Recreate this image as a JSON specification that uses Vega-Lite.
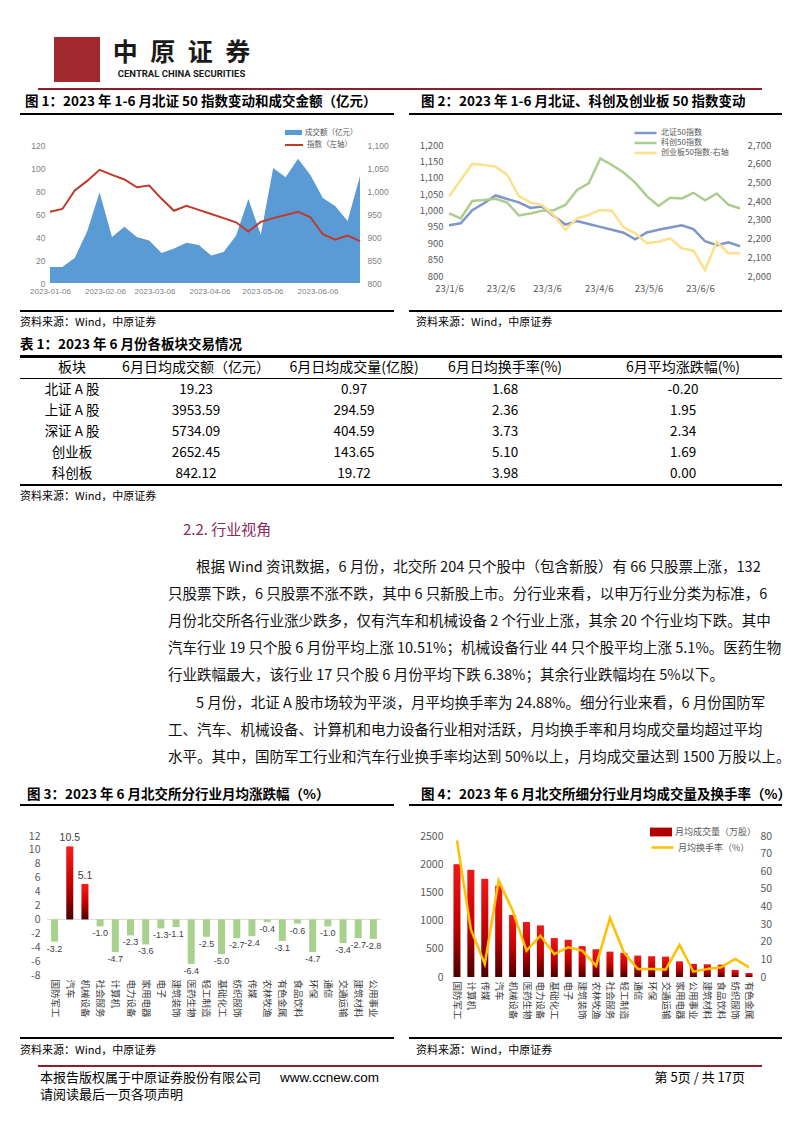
{
"$schema": "https://vega.github.io/schema/vega-lite/v6.json",
"background": "white",
"padding": 0,
"spacing": 0,
"bounds": "full",
"resolve": {"scale": {"fill": "independent", "stroke": "independent"}, "legend": {"fill": "independent", "stroke": "independent"}},
"config": {
  "font": "Noto Sans CJK SC",
  "view": {"stroke": null},
  "concat": {"spacing": 0},
  "axis": {"domain": false, "ticks": false, "grid": false, "labelColor": "#595959", "labelFontSize": 9, "labelOverlap": false, "labelFlush": false},
  "legend": {"padding": 0, "labelColor": "#595959", "labelOffset": 3, "rowPadding": 0},
  "locale": {"number": {"decimal": ".", "thousands": ",", "grouping": [3], "currency": ["", ""], "minus": "-"}}
},
"datasets": {
  "weekly": [
    {"d": "2023-01-06", "amt": 14, "bz": 955, "kc": 991, "cy": 2424},
    {"d": "2023-01-13", "amt": 14, "bz": 961, "kc": 976, "cy": 2513},
    {"d": "2023-01-20", "amt": 22, "bz": 1001, "kc": 1029, "cy": 2599},
    {"d": "2023-01-27", "amt": 45, "bz": 1022, "kc": 1032, "cy": 2593},
    {"d": "2023-02-03", "amt": 79, "bz": 1046, "kc": 1036, "cy": 2584},
    {"d": "2023-02-10", "amt": 40, "bz": 1035, "kc": 1024, "cy": 2540},
    {"d": "2023-02-17", "amt": 49, "bz": 1025, "kc": 985, "cy": 2427},
    {"d": "2023-02-24", "amt": 40, "bz": 1008, "kc": 991, "cy": 2392},
    {"d": "2023-03-03", "amt": 37, "bz": 1012, "kc": 999, "cy": 2379},
    {"d": "2023-03-10", "amt": 26, "bz": 983, "kc": 1001, "cy": 2326},
    {"d": "2023-03-17", "amt": 30, "bz": 957, "kc": 1017, "cy": 2246},
    {"d": "2023-03-24", "amt": 35, "bz": 968, "kc": 1063, "cy": 2308},
    {"d": "2023-03-31", "amt": 33, "bz": 959, "kc": 1083, "cy": 2326},
    {"d": "2023-04-07", "amt": 24, "bz": 950, "kc": 1159, "cy": 2353},
    {"d": "2023-04-14", "amt": 27, "bz": 941, "kc": 1139, "cy": 2349},
    {"d": "2023-04-21", "amt": 41, "bz": 932, "kc": 1116, "cy": 2260},
    {"d": "2023-04-28", "amt": 73, "bz": 912, "kc": 1085, "cy": 2228},
    {"d": "2023-05-05", "amt": 42, "bz": 933, "kc": 1044, "cy": 2175},
    {"d": "2023-05-12", "amt": 100, "bz": 941, "kc": 1014, "cy": 2183},
    {"d": "2023-05-19", "amt": 92, "bz": 948, "kc": 1039, "cy": 2201},
    {"d": "2023-05-26", "amt": 108, "bz": 955, "kc": 1037, "cy": 2148},
    {"d": "2023-06-02", "amt": 94, "bz": 943, "kc": 1054, "cy": 2135},
    {"d": "2023-06-09", "amt": 74, "bz": 906, "kc": 1031, "cy": 2032},
    {"d": "2023-06-16", "amt": 67, "bz": 894, "kc": 1052, "cy": 2183},
    {"d": "2023-06-23", "amt": 54, "bz": 903, "kc": 1018, "cy": 2121},
    {"d": "2023-06-30", "amt": 93, "bz": 891, "kc": 1006, "cy": 2121}
  ],
  "chg": [
    {"ind": "国防军工", "chg": -3.2}, {"ind": "汽车", "chg": 10.5}, {"ind": "机械设备", "chg": 5.1},
    {"ind": "社会服务", "chg": -1.0}, {"ind": "计算机", "chg": -4.7}, {"ind": "电力设备", "chg": -2.3},
    {"ind": "家用电器", "chg": -3.6}, {"ind": "电子", "chg": -1.3}, {"ind": "建筑装饰", "chg": -1.1},
    {"ind": "医药生物", "chg": -6.4}, {"ind": "轻工制造", "chg": -2.5}, {"ind": "基础化工", "chg": -5.0},
    {"ind": "纺织服饰", "chg": -2.7}, {"ind": "传媒", "chg": -2.4}, {"ind": "农林牧渔", "chg": -0.4},
    {"ind": "有色金属", "chg": -3.1}, {"ind": "食品饮料", "chg": -0.6}, {"ind": "环保", "chg": -4.7},
    {"ind": "通信", "chg": -1.0}, {"ind": "交通运输", "chg": -3.4}, {"ind": "建筑材料", "chg": -2.7},
    {"ind": "公用事业", "chg": -2.8}
  ],
  "vol": [
    {"ind": "国防军工", "vol": 2000, "turn": 77.5}, {"ind": "计算机", "vol": 1900, "turn": 27},
    {"ind": "传媒", "vol": 1740, "turn": 7.4}, {"ind": "汽车", "vol": 1620, "turn": 54.8},
    {"ind": "机械设备", "vol": 1100, "turn": 37.7}, {"ind": "医药生物", "vol": 975, "turn": 15},
    {"ind": "电力设备", "vol": 915, "turn": 23.5}, {"ind": "基础化工", "vol": 690, "turn": 13},
    {"ind": "电子", "vol": 660, "turn": 16.9}, {"ind": "建筑装饰", "vol": 548, "turn": 15},
    {"ind": "农林牧渔", "vol": 492, "turn": 6.4}, {"ind": "社会服务", "vol": 450, "turn": 33.4},
    {"ind": "轻工制造", "vol": 428, "turn": 14}, {"ind": "通信", "vol": 380, "turn": 4.5},
    {"ind": "环保", "vol": 368, "turn": 4.5}, {"ind": "交通运输", "vol": 361, "turn": 4.2},
    {"ind": "家用电器", "vol": 278, "turn": 18.2}, {"ind": "公用事业", "vol": 231, "turn": 3},
    {"ind": "建筑材料", "vol": 225, "turn": 4.5}, {"ind": "食品饮料", "vol": 219, "turn": 5.5},
    {"ind": "纺织服饰", "vol": 125, "turn": 10.2}, {"ind": "有色金属", "vol": 71, "turn": 5.5}
  ],
  "table": [
    {"name": "北证 A 股", "amt": 19.23, "vol": 0.97, "turn": 1.68, "chg": -0.20},
    {"name": "上证 A 股", "amt": 3953.59, "vol": 294.59, "turn": 2.36, "chg": 1.95},
    {"name": "深证 A 股", "amt": 5734.09, "vol": 404.59, "turn": 3.73, "chg": 2.34},
    {"name": "创业板", "amt": 2652.45, "vol": 143.65, "turn": 5.10, "chg": 1.69},
    {"name": "科创板", "amt": 842.12, "vol": 19.72, "turn": 3.98, "chg": 0.00}
  ],
  "para": [
    {"p": 1, "line": 1, "text": "根据 Wind 资讯数据，6 月份，北交所 204 只个股中（包含新股）有 66 只股票上涨，132"},
    {"p": 1, "line": 2, "text": "只股票下跌，6 只股票不涨不跌，其中 6 只新股上市。分行业来看，以申万行业分类为标准，6"},
    {"p": 1, "line": 3, "text": "月份北交所各行业涨少跌多，仅有汽车和机械设备 2 个行业上涨，其余 20 个行业均下跌。其中"},
    {"p": 1, "line": 4, "text": "汽车行业 19 只个股 6 月份平均上涨 10.51%；机械设备行业 44 只个股平均上涨 5.1%。医药生物"},
    {"p": 1, "line": 5, "text": "行业跌幅最大，该行业 17 只个股 6 月份平均下跌 6.38%；其余行业跌幅均在 5%以下。"},
    {"p": 2, "line": 1, "text": "5 月份，北证 A 股市场较为平淡，月平均换手率为 24.88%。细分行业来看，6 月份国防军"},
    {"p": 2, "line": 2, "text": "工、汽车、机械设备、计算机和电力设备行业相对活跃，月均换手率和月均成交量均超过平均"},
    {"p": 2, "line": 3, "text": "水平。其中，国防军工行业和汽车行业换手率均达到 50%以上，月均成交量达到 1500 万股以上。"}
  ]
},
"vconcat": [
  {"width": 802, "height": 37, "data": {"values": []}, "mark": "rect"},
  {"spacing": 0, "bounds": "flush", "hconcat": [
    {"width": 54, "height": 45, "data": {"values": []}, "mark": "rect"},
    {"width": 46, "height": 45, "data": {"values": []}, "mark": "rect", "view": {"fill": "#A0282E", "stroke": null}},
    {"width": 13, "height": 45, "data": {"values": []}, "mark": "rect"},
    {"spacing": 0, "bounds": "flush", "vconcat": [
      {"width": 137, "height": 3, "data": {"values": []}, "mark": "rect"},
      {"width": 137, "height": 26, "data": {"values": [{"t": "中\u2002原\u2002证\u2002券"}]}, "mark": {"type": "text", "align": "center", "baseline": "middle", "fontSize": 25, "fontWeight": "bold", "color": "#1a1a1a"}, "encoding": {"text": {"field": "t", "type": "nominal"}}},
      {"width": 137, "height": 3, "data": {"values": []}, "mark": "rect"},
      {"width": 137, "height": 10, "data": {"values": [{"t": "CENTRAL CHINA SECURITIES"}]}, "mark": {"type": "text", "align": "center", "baseline": "middle", "fontSize": 9.5, "fontWeight": "bold", "font": "Roboto", "color": "#1a1a1a"}, "encoding": {"text": {"field": "t", "type": "nominal"}}}
    ]}
  ]},
  {"width": 802, "height": 6, "data": {"values": []}, "mark": "rect"},
  {"spacing": 0, "bounds": "flush", "hconcat": [
    {"width": 38, "height": 2, "data": {"values": []}, "mark": "rect"},
    {"width": 724, "height": 2, "data": {"values": []}, "mark": "rect", "view": {"fill": "#8B1F2A", "stroke": null}}
  ]},
  {"width": 802, "height": 2, "data": {"values": []}, "mark": "rect"},
  {"spacing": 0, "bounds": "flush", "hconcat": [
    {"width": 50, "height": 20, "data": {"values": [{"t": "图 1：2023 年 1-6 月北证 50 指数变动和成交金额（亿元）"}]}, "mark": {"type": "text", "align": "left", "baseline": "middle", "fontSize": 13.5, "fontWeight": "bold", "color": "#000"}, "encoding": {"text": {"field": "t", "type": "nominal"}}},
    {"width": 742, "height": 20, "data": {"values": [{"t": "图 2：2023 年 1-6 月北证、科创及创业板 50 指数变动"}]}, "mark": {"type": "text", "align": "left", "baseline": "middle", "fontSize": 13.5, "fontWeight": "bold", "color": "#000"}, "encoding": {"text": {"field": "t", "type": "nominal"}}}
  ]},
  {"width": 802, "height": 1, "data": {"values": []}, "mark": "rect"},
  {"spacing": 0, "bounds": "flush", "hconcat": [
    {"width": 20, "height": 2, "data": {"values": []}, "mark": "rect"},
    {"width": 374, "height": 2, "data": {"values": []}, "mark": "rect", "view": {"fill": "#000", "stroke": null}},
    {"width": 15, "height": 2, "data": {"values": []}, "mark": "rect"},
    {"width": 373, "height": 2, "data": {"values": []}, "mark": "rect", "view": {"fill": "#000", "stroke": null}}
  ]},
  {"width": 802, "height": 9, "data": {"values": []}, "mark": "rect"},
  {"spacing": 0, "bounds": "flush",
   "resolve": {"scale": {"fill": "independent", "stroke": "independent"}, "legend": {"fill": "independent", "stroke": "independent"}},
   "hconcat": [
    {"width": 50, "height": 165, "data": {"values": []}, "mark": "rect"},
    {"width": 310, "height": 138, "data": {"name": "weekly"},
     "layer": [
      {"mark": {"type": "area"},
       "encoding": {
        "x": {"field": "d", "type": "temporal", "scale": {"type": "utc", "domain": [{"year": 2023, "month": 1, "date": 6, "utc": true}, {"year": 2023, "month": 6, "date": 30, "utc": true}]},
              "axis": {"title": null, "format": "%Y-%m-%d", "labelFont": "Liberation Sans", "labelFontSize": 8, "labelPadding": 4, "labelColor": "#7F7F7F",
                       "values": [{"year": 2023, "month": 1, "date": 6, "utc": true}, {"year": 2023, "month": 2, "date": 6, "utc": true}, {"year": 2023, "month": 3, "date": 6, "utc": true}, {"year": 2023, "month": 4, "date": 6, "utc": true}, {"year": 2023, "month": 5, "date": 6, "utc": true}, {"year": 2023, "month": 6, "date": 6, "utc": true}]}},
        "y": {"field": "amt", "type": "quantitative", "scale": {"domain": [0, 120], "nice": false}, "axis": {"title": null, "values": [0, 20, 40, 60, 80, 100, 120], "labelFont": "Liberation Sans", "labelFontSize": 8.5, "labelPadding": 5, "labelColor": "#7F7F7F"}},
        "fill": {"datum": "成交额（亿元）", "scale": {"range": ["#5B9BD5"]}, "legend": {"orient": "none", "legendX": 235, "legendY": -21, "title": null, "symbolType": "M-1,-0.3H1V0.3H-1Z", "symbolSize": 289, "symbolStrokeWidth": 0, "labelFontSize": 7.5}}
       }},
      {"mark": {"type": "line", "strokeWidth": 2},
       "encoding": {
        "x": {"field": "d", "type": "temporal", "scale": {"type": "utc", "domain": [{"year": 2023, "month": 1, "date": 6, "utc": true}, {"year": 2023, "month": 6, "date": 30, "utc": true}]}},
        "y": {"field": "bz", "type": "quantitative", "scale": {"domain": [800, 1100], "nice": false}, "axis": {"orient": "right", "title": null, "values": [800, 850, 900, 950, 1000, 1050, 1100], "format": ",.0f", "labelFont": "Liberation Sans", "labelFontSize": 8.5, "labelPadding": 7, "labelColor": "#7F7F7F"}},
        "stroke": {"datum": "指数（左轴）", "scale": {"range": ["#C0392B"]}, "legend": {"orient": "none", "legendX": 234, "legendY": -10, "title": null, "symbolType": "stroke", "symbolSize": 324, "symbolStrokeWidth": 2, "labelFontSize": 7.5}}
       }}
     ],
     "resolve": {"scale": {"y": "independent"}}
    },
    {"width": 89, "height": 138, "data": {"values": []}, "mark": "rect"},
    {"width": 291, "height": 131, "data": {"name": "weekly"},
     "layer": [
      {"layer": [
        {"mark": {"type": "line", "strokeWidth": 2.5},
         "encoding": {
          "x": {"field": "d", "type": "temporal", "scale": {"type": "utc", "domain": [{"year": 2023, "month": 1, "date": 6, "utc": true}, {"year": 2023, "month": 6, "date": 30, "utc": true}]},
                "axis": {"title": null, "format": "%y/%-m/%-d", "labelFontSize": 9.5, "labelPadding": 7,
                         "values": [{"year": 2023, "month": 1, "date": 6, "utc": true}, {"year": 2023, "month": 2, "date": 6, "utc": true}, {"year": 2023, "month": 3, "date": 6, "utc": true}, {"year": 2023, "month": 4, "date": 6, "utc": true}, {"year": 2023, "month": 5, "date": 6, "utc": true}, {"year": 2023, "month": 6, "date": 6, "utc": true}]}},
          "y": {"field": "bz", "type": "quantitative", "scale": {"domain": [800, 1200], "nice": false}, "axis": {"title": null, "values": [800, 850, 900, 950, 1000, 1050, 1100, 1150, 1200], "format": ",.0f", "labelFontSize": 9.5, "labelPadding": 6}},
          "stroke": {"datum": "北证50指数", "scale": {"domain": ["北证50指数", "科创50指数", "创业板50指数-右轴"], "range": ["#7F96CA", "#AECB90", "#FDE08A"]},
                     "legend": {"orient": "none", "legendX": 184, "legendY": -17, "title": null, "symbolType": "stroke", "symbolSize": 484, "symbolStrokeWidth": 2.5, "labelFontSize": 8, "clipHeight": 10}}
         }},
        {"mark": {"type": "line", "strokeWidth": 2.5},
         "encoding": {
          "x": {"field": "d", "type": "temporal", "scale": {"type": "utc", "domain": [{"year": 2023, "month": 1, "date": 6, "utc": true}, {"year": 2023, "month": 6, "date": 30, "utc": true}]},
                "axis": {"title": null, "format": "%y/%-m/%-d", "labelFontSize": 9.5, "labelPadding": 7,
                         "values": [{"year": 2023, "month": 1, "date": 6, "utc": true}, {"year": 2023, "month": 2, "date": 6, "utc": true}, {"year": 2023, "month": 3, "date": 6, "utc": true}, {"year": 2023, "month": 4, "date": 6, "utc": true}, {"year": 2023, "month": 5, "date": 6, "utc": true}, {"year": 2023, "month": 6, "date": 6, "utc": true}]}},
          "y": {"field": "kc", "type": "quantitative", "scale": {"domain": [800, 1200], "nice": false}, "axis": {"title": null, "values": [800, 850, 900, 950, 1000, 1050, 1100, 1150, 1200], "format": ",.0f", "labelFontSize": 9.5, "labelPadding": 6}},
          "stroke": {"datum": "科创50指数"}
         }}
      ]},
      {"mark": {"type": "line", "strokeWidth": 2.5},
       "encoding": {
        "x": {"field": "d", "type": "temporal", "scale": {"type": "utc", "domain": [{"year": 2023, "month": 1, "date": 6, "utc": true}, {"year": 2023, "month": 6, "date": 30, "utc": true}]}},
        "y": {"field": "cy", "type": "quantitative", "scale": {"domain": [2000, 2700], "nice": false}, "axis": {"orient": "right", "title": null, "values": [2000, 2100, 2200, 2300, 2400, 2500, 2600, 2700], "format": ",.0f", "labelFontSize": 9.5, "labelPadding": 7}},
        "stroke": {"datum": "创业板50指数-右轴"}
       }}
     ],
     "resolve": {"scale": {"y": "independent"}}
    }
  ]},
  {"spacing": 0, "bounds": "flush", "hconcat": [
    {"width": 20, "height": 2, "data": {"values": []}, "mark": "rect"},
    {"width": 374, "height": 2, "data": {"values": []}, "mark": "rect", "view": {"fill": "#000", "stroke": null}},
    {"width": 15, "height": 2, "data": {"values": []}, "mark": "rect"},
    {"width": 373, "height": 2, "data": {"values": []}, "mark": "rect", "view": {"fill": "#000", "stroke": null}}
  ]},
  {"width": 802, "height": 3, "data": {"values": []}, "mark": "rect"},
  {"spacing": 0, "bounds": "flush", "hconcat": [
    {"width": 40, "height": 16, "data": {"values": [{"t": "资料来源：Wind，中原证券"}]}, "mark": {"type": "text", "align": "left", "baseline": "middle", "fontSize": 11, "color": "#000"}, "encoding": {"text": {"field": "t", "type": "nominal"}}},
    {"width": 752, "height": 16, "data": {"values": [{"t": "资料来源：Wind，中原证券"}]}, "mark": {"type": "text", "align": "left", "baseline": "middle", "fontSize": 11, "color": "#000"}, "encoding": {"text": {"field": "t", "type": "nominal"}}}
  ]},
  {"width": 802, "height": 4, "data": {"values": []}, "mark": "rect"},
  {"width": 40, "height": 20, "data": {"values": [{"t": "表 1：2023 年 6 月份各板块交易情况"}]}, "mark": {"type": "text", "align": "left", "baseline": "middle", "fontSize": 13.5, "fontWeight": "bold", "color": "#000"}, "encoding": {"text": {"field": "t", "type": "nominal"}}},
  {"spacing": 0, "bounds": "flush", "hconcat": [
    {"width": 20, "height": 3, "data": {"values": []}, "mark": "rect"},
    {"width": 762, "height": 3, "data": {"values": []}, "mark": "rect", "view": {"fill": "#000", "stroke": null}}
  ]},
  {"spacing": 0, "bounds": "flush", "hconcat": [
    {"width": 20, "height": 20, "data": {"values": []}, "mark": "rect"},
    {"width": 104, "height": 20, "data": {"values": [{"t": "板块"}]}, "mark": {"type": "text", "align": "center", "baseline": "middle", "fontSize": 14, "color": "#000"}, "encoding": {"text": {"field": "t", "type": "nominal"}}},
    {"width": 144, "height": 20, "data": {"values": [{"t": "6月日均成交额（亿元）"}]}, "mark": {"type": "text", "align": "center", "baseline": "middle", "fontSize": 14, "color": "#000"}, "encoding": {"text": {"field": "t", "type": "nominal"}}},
    {"width": 172, "height": 20, "data": {"values": [{"t": "6月日均成交量(亿股)"}]}, "mark": {"type": "text", "align": "center", "baseline": "middle", "fontSize": 14, "color": "#000"}, "encoding": {"text": {"field": "t", "type": "nominal"}}},
    {"width": 130, "height": 20, "data": {"values": [{"t": "6月日均换手率(%)"}]}, "mark": {"type": "text", "align": "center", "baseline": "middle", "fontSize": 14, "color": "#000"}, "encoding": {"text": {"field": "t", "type": "nominal"}}},
    {"width": 226, "height": 20, "data": {"values": [{"t": "6月平均涨跌幅(%)"}]}, "mark": {"type": "text", "align": "center", "baseline": "middle", "fontSize": 14, "color": "#000"}, "encoding": {"text": {"field": "t", "type": "nominal"}}}
  ]},
  {"spacing": 0, "bounds": "flush", "hconcat": [
    {"width": 20, "height": 1, "data": {"values": []}, "mark": "rect"},
    {"width": 762, "height": 1, "data": {"values": []}, "mark": "rect", "view": {"fill": "#000", "stroke": null}}
  ]},
  {"spacing": 0, "bounds": "flush", "hconcat": [
    {"width": 20, "height": 105, "data": {"values": []}, "mark": "rect"},
    {"width": 104, "height": 105, "data": {"name": "table"}, "mark": {"type": "text", "fontSize": 13.5, "color": "#000"}, "encoding": {"y": {"field": "name", "type": "nominal", "sort": null, "axis": null}, "text": {"field": "name", "type": "nominal"}}},
    {"width": 144, "height": 105, "data": {"name": "table"}, "mark": {"type": "text", "fontSize": 13.5, "color": "#000"}, "encoding": {"y": {"field": "name", "type": "nominal", "sort": null, "axis": null}, "text": {"field": "amt", "type": "quantitative", "format": ".2f"}}},
    {"width": 172, "height": 105, "data": {"name": "table"}, "mark": {"type": "text", "fontSize": 13.5, "color": "#000"}, "encoding": {"y": {"field": "name", "type": "nominal", "sort": null, "axis": null}, "text": {"field": "vol", "type": "quantitative", "format": ".2f"}}},
    {"width": 130, "height": 105, "data": {"name": "table"}, "mark": {"type": "text", "fontSize": 13.5, "color": "#000"}, "encoding": {"y": {"field": "name", "type": "nominal", "sort": null, "axis": null}, "text": {"field": "turn", "type": "quantitative", "format": ".2f"}}},
    {"width": 226, "height": 105, "data": {"name": "table"}, "mark": {"type": "text", "fontSize": 13.5, "color": "#000"}, "encoding": {"y": {"field": "name", "type": "nominal", "sort": null, "axis": null}, "text": {"field": "chg", "type": "quantitative", "format": ".2f"}}}
  ]},
  {"spacing": 0, "bounds": "flush", "hconcat": [
    {"width": 20, "height": 2, "data": {"values": []}, "mark": "rect"},
    {"width": 762, "height": 2, "data": {"values": []}, "mark": "rect", "view": {"fill": "#000", "stroke": null}}
  ]},
  {"width": 802, "height": 1, "data": {"values": []}, "mark": "rect"},
  {"width": 40, "height": 20, "data": {"values": [{"t": "资料来源：Wind，中原证券"}]}, "mark": {"type": "text", "align": "left", "baseline": "middle", "fontSize": 11, "color": "#000"}, "encoding": {"text": {"field": "t", "type": "nominal"}}},
  {"width": 802, "height": 12, "data": {"values": []}, "mark": "rect"},
  {"width": 366, "height": 22, "data": {"values": [{"t": "2.2. 行业视角"}]}, "mark": {"type": "text", "align": "left", "baseline": "middle", "fontSize": 15, "color": "#8B2A5B"}, "encoding": {"text": {"field": "t", "type": "nominal"}}},
  {"width": 802, "height": 13, "data": {"values": []}, "mark": "rect"},
  {"width": 392, "height": 27, "data": {"name": "para"}, "transform": [{"filter": "datum.p == 1 && datum.line == 1"}], "mark": {"type": "text", "align": "left", "baseline": "middle", "fontSize": 14.5, "color": "#111"}, "encoding": {"text": {"field": "text", "type": "nominal"}}},
  {"width": 336, "height": 108, "data": {"name": "para"}, "transform": [{"filter": "datum.p == 1 && datum.line > 1"}], "mark": {"type": "text", "align": "left", "baseline": "middle", "fontSize": 14.5, "color": "#111"}, "encoding": {"y": {"field": "line", "type": "ordinal", "axis": null}, "text": {"field": "text", "type": "nominal"}}},
  {"width": 802, "height": 1, "data": {"values": []}, "mark": "rect"},
  {"width": 392, "height": 27, "data": {"name": "para"}, "transform": [{"filter": "datum.p == 2 && datum.line == 1"}], "mark": {"type": "text", "align": "left", "baseline": "middle", "fontSize": 14.5, "color": "#111"}, "encoding": {"text": {"field": "text", "type": "nominal"}}},
  {"width": 336, "height": 54, "data": {"name": "para"}, "transform": [{"filter": "datum.p == 2 && datum.line > 1"}], "mark": {"type": "text", "align": "left", "baseline": "middle", "fontSize": 14.5, "color": "#111"}, "encoding": {"y": {"field": "line", "type": "ordinal", "axis": null}, "text": {"field": "text", "type": "nominal"}}},
  {"width": 802, "height": 15, "data": {"values": []}, "mark": "rect"},
  {"spacing": 0, "bounds": "flush", "hconcat": [
    {"width": 54, "height": 18, "data": {"values": [{"t": "图 3：2023 年 6 月北交所分行业月均涨跌幅（%）"}]}, "mark": {"type": "text", "align": "left", "baseline": "middle", "fontSize": 13.5, "fontWeight": "bold", "color": "#000"}, "encoding": {"text": {"field": "t", "type": "nominal"}}},
    {"width": 734, "height": 18, "data": {"values": [{"t": "图 4：2023 年 6 月北交所细分行业月均成交量及换手率（%）"}]}, "mark": {"type": "text", "align": "left", "baseline": "middle", "fontSize": 13.5, "fontWeight": "bold", "color": "#000"}, "encoding": {"text": {"field": "t", "type": "nominal"}}}
  ]},
  {"spacing": 0, "bounds": "flush", "hconcat": [
    {"width": 20, "height": 2, "data": {"values": []}, "mark": "rect"},
    {"width": 374, "height": 2, "data": {"values": []}, "mark": "rect", "view": {"fill": "#000", "stroke": null}},
    {"width": 15, "height": 2, "data": {"values": []}, "mark": "rect"},
    {"width": 373, "height": 2, "data": {"values": []}, "mark": "rect", "view": {"fill": "#000", "stroke": null}}
  ]},
  {"width": 802, "height": 15, "data": {"values": []}, "mark": "rect"},
  {"spacing": 0, "bounds": "flush",
   "resolve": {"scale": {"fill": "independent", "stroke": "independent"}, "legend": {"fill": "independent", "stroke": "independent"}},
   "hconcat": [
    {"width": 47, "height": 201, "data": {"values": []}, "mark": "rect"},
    {"width": 334, "height": 139, "data": {"name": "chg"},
     "layer": [
      {"data": {"values": [{"z": 0}]}, "mark": {"type": "rule", "color": "#D9D9D9", "strokeWidth": 1},
       "encoding": {"y": {"field": "z", "type": "quantitative", "scale": {"domain": [-8, 12], "nice": false}, "axis": {"title": null, "values": [-8, -6, -4, -2, 0, 2, 4, 6, 8, 10, 12], "labelFontSize": 10.5, "labelPadding": 7}}}},
      {"transform": [{"filter": "datum.chg > 0"}],
       "mark": {"type": "bar", "size": 7, "color": {"x1": 0, "y1": 0, "x2": 0, "y2": 1, "gradient": "linear", "stops": [{"offset": 0, "color": "#FF1A1A"}, {"offset": 0.55, "color": "#C00000"}, {"offset": 1, "color": "#4A0000"}]}},
       "encoding": {
        "x": {"field": "ind", "type": "nominal", "scale": {"domain": ["国防军工","汽车","机械设备","社会服务","计算机","电力设备","家用电器","电子","建筑装饰","医药生物","轻工制造","基础化工","纺织服饰","传媒","农林牧渔","有色金属","食品饮料","环保","通信","交通运输","建筑材料","公用事业"], "paddingInner": 0, "paddingOuter": 0},
              "axis": {"title": null, "labelAngle": 90, "labelAlign": "left", "labelBaseline": "middle", "labelPadding": 4, "labelFontSize": 9.5, "labelColor": "#404040"}},
        "y": {"field": "chg", "type": "quantitative", "scale": {"domain": [-8, 12], "nice": false}, "axis": {"title": null, "values": [-8, -6, -4, -2, 0, 2, 4, 6, 8, 10, 12], "labelFontSize": 10.5, "labelPadding": 7}}
       }},
      {"transform": [{"filter": "datum.chg < 0"}],
       "mark": {"type": "bar", "size": 7, "color": "#A9D18E"},
       "encoding": {
        "x": {"field": "ind", "type": "nominal", "scale": {"domain": ["国防军工","汽车","机械设备","社会服务","计算机","电力设备","家用电器","电子","建筑装饰","医药生物","轻工制造","基础化工","纺织服饰","传媒","农林牧渔","有色金属","食品饮料","环保","通信","交通运输","建筑材料","公用事业"], "paddingInner": 0, "paddingOuter": 0},
              "axis": {"title": null, "labelAngle": 90, "labelAlign": "left", "labelBaseline": "middle", "labelPadding": 4, "labelFontSize": 9.5, "labelColor": "#404040"}},
        "y": {"field": "chg", "type": "quantitative", "scale": {"domain": [-8, 12], "nice": false}, "axis": {"title": null, "values": [-8, -6, -4, -2, 0, 2, 4, 6, 8, 10, 12], "labelFontSize": 10.5, "labelPadding": 7}}
       }},
      {"transform": [{"filter": "datum.chg > 0"}],
       "mark": {"type": "text", "baseline": "bottom", "dy": -3, "fontSize": 10.5, "font": "Liberation Sans", "color": "#404040"},
       "encoding": {
        "x": {"field": "ind", "type": "nominal", "scale": {"domain": ["国防军工","汽车","机械设备","社会服务","计算机","电力设备","家用电器","电子","建筑装饰","医药生物","轻工制造","基础化工","纺织服饰","传媒","农林牧渔","有色金属","食品饮料","环保","通信","交通运输","建筑材料","公用事业"], "paddingInner": 0, "paddingOuter": 0},
              "axis": {"title": null, "labelAngle": 90, "labelAlign": "left", "labelBaseline": "middle", "labelPadding": 4, "labelFontSize": 9.5, "labelColor": "#404040"}},
        "y": {"field": "chg", "type": "quantitative", "scale": {"domain": [-8, 12], "nice": false}, "axis": {"title": null, "values": [-8, -6, -4, -2, 0, 2, 4, 6, 8, 10, 12], "labelFontSize": 10.5, "labelPadding": 7}},
        "text": {"field": "chg", "type": "quantitative", "format": ".1f"}
       }},
      {"transform": [{"filter": "datum.chg < 0"}],
       "mark": {"type": "text", "baseline": "top", "dy": 3, "fontSize": 9, "font": "Liberation Sans", "color": "#404040"},
       "encoding": {
        "x": {"field": "ind", "type": "nominal", "scale": {"domain": ["国防军工","汽车","机械设备","社会服务","计算机","电力设备","家用电器","电子","建筑装饰","医药生物","轻工制造","基础化工","纺织服饰","传媒","农林牧渔","有色金属","食品饮料","环保","通信","交通运输","建筑材料","公用事业"], "paddingInner": 0, "paddingOuter": 0},
              "axis": {"title": null, "labelAngle": 90, "labelAlign": "left", "labelBaseline": "middle", "labelPadding": 4, "labelFontSize": 9.5, "labelColor": "#404040"}},
        "y": {"field": "chg", "type": "quantitative", "scale": {"domain": [-8, 12], "nice": false}, "axis": {"title": null, "values": [-8, -6, -4, -2, 0, 2, 4, 6, 8, 10, 12], "labelFontSize": 10.5, "labelPadding": 7}},
        "text": {"field": "chg", "type": "quantitative", "format": ".1f"}
       }}
     ]
    },
    {"width": 69, "height": 143, "data": {"values": []}, "mark": "rect"},
    {"width": 306, "height": 141, "data": {"name": "vol"},
     "layer": [
      {"mark": {"type": "bar", "size": 7, "color": {"x1": 0, "y1": 0, "x2": 0, "y2": 1, "gradient": "linear", "stops": [{"offset": 0, "color": "#F01818"}, {"offset": 0.55, "color": "#C00000"}, {"offset": 1, "color": "#4A0000"}]}},
       "encoding": {
        "x": {"field": "ind", "type": "nominal", "sort": null, "scale": {"paddingInner": 0, "paddingOuter": 0},
              "axis": {"title": null, "labelAngle": 90, "labelAlign": "left", "labelBaseline": "middle", "labelPadding": 4, "labelFontSize": 9.5, "labelColor": "#404040"}},
        "y": {"field": "vol", "type": "quantitative", "scale": {"domain": [0, 2500], "nice": false}, "axis": {"title": null, "values": [0, 500, 1000, 1500, 2000, 2500], "format": "d", "labelFontSize": 10.5, "labelPadding": 7}}
       }},
      {"mark": {"type": "line", "strokeWidth": 2.5},
       "encoding": {
        "x": {"field": "ind", "type": "nominal", "sort": null, "scale": {"paddingInner": 0, "paddingOuter": 0},
              "axis": {"title": null, "labelAngle": 90, "labelAlign": "left", "labelBaseline": "middle", "labelPadding": 4, "labelFontSize": 9.5, "labelColor": "#404040"}},
        "y": {"field": "turn", "type": "quantitative", "scale": {"domain": [0, 80], "nice": false}, "axis": {"orient": "right", "title": null, "values": [0, 10, 20, 30, 40, 50, 60, 70, 80], "labelFontSize": 10.5, "labelPadding": 4}},
        "stroke": {"datum": "月均换手率（%）", "scale": {"range": ["#FFC000"]}, "legend": {"orient": "none", "legendX": 200, "legendY": -1, "title": null, "symbolType": "stroke", "symbolSize": 484, "symbolStrokeWidth": 2.5, "labelFontSize": 9}}
       }},
      {"transform": [{"filter": "false"}],
       "mark": {"type": "bar"},
       "encoding": {
        "fill": {"datum": "月均成交量（万股）", "scale": {"range": ["#B00000"]}, "legend": {"orient": "none", "legendX": 200, "legendY": -15, "title": null, "symbolType": "M-1,-0.4H1V0.4H-1Z", "symbolSize": 484, "symbolStrokeWidth": 0, "labelFontSize": 9}}
       }}
     ],
     "resolve": {"scale": {"y": "independent"}}
    }
  ]},
  {"spacing": 0, "bounds": "flush", "hconcat": [
    {"width": 20, "height": 2, "data": {"values": []}, "mark": "rect"},
    {"width": 374, "height": 2, "data": {"values": []}, "mark": "rect", "view": {"fill": "#000", "stroke": null}},
    {"width": 15, "height": 2, "data": {"values": []}, "mark": "rect"},
    {"width": 373, "height": 2, "data": {"values": []}, "mark": "rect", "view": {"fill": "#000", "stroke": null}}
  ]},
  {"width": 802, "height": 4, "data": {"values": []}, "mark": "rect"},
  {"spacing": 0, "bounds": "flush", "hconcat": [
    {"width": 40, "height": 16, "data": {"values": [{"t": "资料来源：Wind，中原证券"}]}, "mark": {"type": "text", "align": "left", "baseline": "middle", "fontSize": 11, "color": "#000"}, "encoding": {"text": {"field": "t", "type": "nominal"}}},
    {"width": 752, "height": 16, "data": {"values": [{"t": "资料来源：Wind，中原证券"}]}, "mark": {"type": "text", "align": "left", "baseline": "middle", "fontSize": 11, "color": "#000"}, "encoding": {"text": {"field": "t", "type": "nominal"}}}
  ]},
  {"width": 802, "height": 6, "data": {"values": []}, "mark": "rect"},
  {"spacing": 0, "bounds": "flush", "hconcat": [
    {"width": 38, "height": 2, "data": {"values": []}, "mark": "rect"},
    {"width": 724, "height": 2, "data": {"values": []}, "mark": "rect", "view": {"fill": "#8B1F2A", "stroke": null}}
  ]},
  {"width": 802, "height": 3, "data": {"values": []}, "mark": "rect"},
  {"spacing": 0, "bounds": "flush", "hconcat": [
    {"width": 80, "height": 16, "data": {"values": [{"t": "本报告版权属于中原证券股份有限公司"}]}, "mark": {"type": "text", "align": "left", "baseline": "middle", "fontSize": 13, "color": "#000"}, "encoding": {"text": {"field": "t", "type": "nominal"}}},
    {"width": 400, "height": 16, "data": {"values": [{"t": "www.ccnew.com"}]}, "mark": {"type": "text", "align": "left", "baseline": "middle", "fontSize": 13.5, "font": "Liberation Sans", "color": "#000"}, "encoding": {"text": {"field": "t", "type": "nominal"}}},
    {"width": 208, "height": 16, "data": {"values": []}, "mark": "rect"},
    {"width": 114, "height": 16, "data": {"values": [{"t": "第 5页 / 共 17页"}]}, "mark": {"type": "text", "align": "right", "baseline": "middle", "fontSize": 13, "color": "#000"}, "encoding": {"text": {"field": "t", "type": "nominal"}}}
  ]},
  {"width": 802, "height": 1, "data": {"values": []}, "mark": "rect"},
  {"width": 80, "height": 16, "data": {"values": [{"t": "请阅读最后一页各项声明"}]}, "mark": {"type": "text", "align": "left", "baseline": "middle", "fontSize": 13, "color": "#000"}, "encoding": {"text": {"field": "t", "type": "nominal"}}},
  {"width": 802, "height": 30, "data": {"values": []}, "mark": "rect"}
]
}
